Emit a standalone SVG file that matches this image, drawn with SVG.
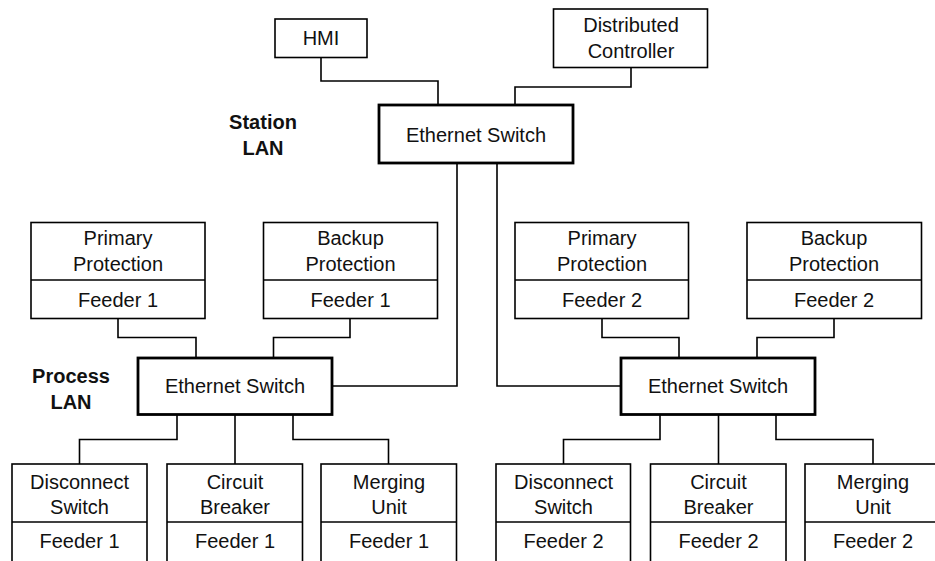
<svg xmlns="http://www.w3.org/2000/svg" width="935" height="561" viewBox="0 0 935 561">
  <style>
    .box { fill: #fff; stroke: #000; stroke-width: 1.6; }
    .sw { fill: #fff; stroke: #000; stroke-width: 2.8; }
    .div { stroke: #000; stroke-width: 1.6; }
    .wire { fill: none; stroke: #000; stroke-width: 1.6; }
    text { font-family: "Liberation Sans", Arial, sans-serif; font-size: 20px; fill: #111; text-anchor: middle; }
    .lan { font-weight: bold; }
  </style>
  <rect width="935" height="561" fill="#fff"/>

  <!-- network cabling -->
  <g id="connectors">
    <path class="wire" d="M321 57.5 V81 H438 V105"/>
    <path class="wire" d="M631 67.5 V87 H515 V105"/>
    <path class="wire" d="M457 163 V386 H332"/>
    <path class="wire" d="M497 163 V386 H621"/>
    <path class="wire" d="M118 318.5 V337.5 H196 V358"/>
    <path class="wire" d="M350 318.5 V337.5 H273.5 V358"/>
    <path class="wire" d="M602 318.5 V337.5 H679 V358"/>
    <path class="wire" d="M834 318.5 V337.5 H757 V358"/>
    <path class="wire" d="M177 414.5 V439.5 H79.5 V464"/>
    <path class="wire" d="M235 414.5 V464"/>
    <path class="wire" d="M293 414.5 V439.5 H388.5 V464"/>
    <path class="wire" d="M660 414.5 V439.5 H563.5 V464"/>
    <path class="wire" d="M718.5 414.5 V464"/>
    <path class="wire" d="M776 414.5 V439.5 H873 V464"/>
  </g>

  <!-- LAN labels -->
  <text class="lan" x="263" y="129">Station</text>
  <text class="lan" x="263" y="155">LAN</text>
  <text class="lan" x="71" y="383">Process</text>
  <text class="lan" x="71" y="409">LAN</text>

  <!-- station level -->
  <g id="hmi">
    <rect class="box" x="275" y="19" width="92" height="38.5"/>
    <text x="321" y="45">HMI</text>
  </g>
  <g id="distributed-controller">
    <rect class="box" x="553.5" y="9" width="154" height="58.5"/>
    <text x="631" y="32">Distributed</text>
    <text x="631" y="57.5">Controller</text>
  </g>
  <g id="station-switch">
    <rect class="sw" x="379" y="105" width="194" height="58"/>
    <text x="476" y="141.5">Ethernet Switch</text>
  </g>

  <!-- protection relays -->
  <g id="primary-protection-1">
    <rect class="box" x="31" y="222.5" width="174" height="96"/>
    <line class="div" x1="31" y1="280" x2="205" y2="280"/>
    <text x="118" y="245">Primary</text>
    <text x="118" y="271">Protection</text>
    <text x="118" y="307">Feeder 1</text>
  </g>
  <g id="backup-protection-1">
    <rect class="box" x="263.5" y="222.5" width="174" height="96"/>
    <line class="div" x1="263.5" y1="280" x2="437.5" y2="280"/>
    <text x="350.5" y="245">Backup</text>
    <text x="350.5" y="271">Protection</text>
    <text x="350.5" y="307">Feeder 1</text>
  </g>
  <g id="primary-protection-2">
    <rect class="box" x="515" y="222.5" width="173.5" height="96"/>
    <line class="div" x1="515" y1="280" x2="688.5" y2="280"/>
    <text x="602" y="245">Primary</text>
    <text x="602" y="271">Protection</text>
    <text x="602" y="307">Feeder 2</text>
  </g>
  <g id="backup-protection-2">
    <rect class="box" x="747" y="222.5" width="174.5" height="96"/>
    <line class="div" x1="747" y1="280" x2="921.5" y2="280"/>
    <text x="834" y="245">Backup</text>
    <text x="834" y="271">Protection</text>
    <text x="834" y="307">Feeder 2</text>
  </g>

  <!-- process level switches -->
  <g id="process-switch-1">
    <rect class="sw" x="138" y="358" width="194" height="56.5"/>
    <text x="235" y="393">Ethernet Switch</text>
  </g>
  <g id="process-switch-2">
    <rect class="sw" x="621" y="358" width="194" height="56.5"/>
    <text x="718" y="393">Ethernet Switch</text>
  </g>

  <!-- bay devices, feeder 1 -->
  <g id="disconnect-switch-1">
    <rect class="box" x="12" y="464" width="135" height="110"/>
    <line class="div" x1="12" y1="522" x2="147" y2="522"/>
    <text x="79.5" y="488.5">Disconnect</text>
    <text x="79.5" y="513.5">Switch</text>
    <text x="79.5" y="548">Feeder 1</text>
  </g>
  <g id="circuit-breaker-1">
    <rect class="box" x="167" y="464" width="135.5" height="110"/>
    <line class="div" x1="167" y1="522" x2="302.5" y2="522"/>
    <text x="235" y="488.5">Circuit</text>
    <text x="235" y="513.5">Breaker</text>
    <text x="235" y="548">Feeder 1</text>
  </g>
  <g id="merging-unit-1">
    <rect class="box" x="321" y="464" width="135.5" height="110"/>
    <line class="div" x1="321" y1="522" x2="456.5" y2="522"/>
    <text x="389" y="488.5">Merging</text>
    <text x="389" y="513.5">Unit</text>
    <text x="389" y="548">Feeder 1</text>
  </g>

  <!-- bay devices, feeder 2 -->
  <g id="disconnect-switch-2">
    <rect class="box" x="496" y="464" width="134.5" height="110"/>
    <line class="div" x1="496" y1="522" x2="630.5" y2="522"/>
    <text x="563.5" y="488.5">Disconnect</text>
    <text x="563.5" y="513.5">Switch</text>
    <text x="563.5" y="548">Feeder 2</text>
  </g>
  <g id="circuit-breaker-2">
    <rect class="box" x="650.5" y="464" width="135.5" height="110"/>
    <line class="div" x1="650.5" y1="522" x2="786" y2="522"/>
    <text x="718.5" y="488.5">Circuit</text>
    <text x="718.5" y="513.5">Breaker</text>
    <text x="718.5" y="548">Feeder 2</text>
  </g>
  <g id="merging-unit-2">
    <rect class="box" x="805" y="464" width="135" height="110"/>
    <line class="div" x1="805" y1="522" x2="940" y2="522"/>
    <text x="873" y="488.5">Merging</text>
    <text x="873" y="513.5">Unit</text>
    <text x="873" y="548">Feeder 2</text>
  </g>
</svg>
